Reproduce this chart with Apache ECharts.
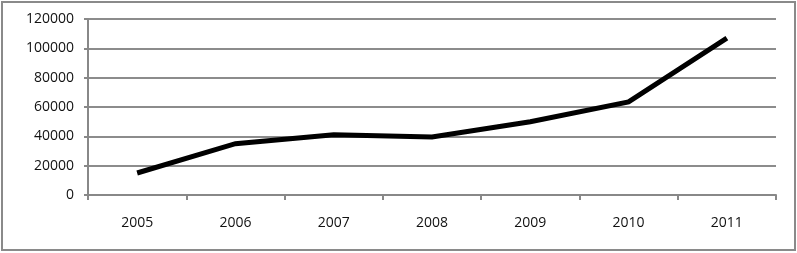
<!DOCTYPE html>
<html>
<head>
<meta charset="utf-8">
<script src="https://cdn.jsdelivr.net/npm/echarts@6/dist/echarts.min.js"></script>
<style>
html,body{margin:0;padding:0;background:#fff;}
#wrap{position:absolute;left:1px;top:1px;width:795px;height:250px;border:2px solid #8a8a8a;box-sizing:border-box;}
#chart{position:absolute;left:0;top:0;width:797px;height:253px;}
</style>
</head>
<body>
<div id="wrap"></div>
<div id="chart"></div>
<script>
const years = ['2005','2006','2007','2008','2009','2010','2011'];
const values = [15000, 35000, 41000, 39500, 50000, 63500, 107000];
const yTicks = {min: 0, max: 120000, interval: 20000};

const chart = echarts.init(document.getElementById('chart'), null, {renderer: 'canvas'});
chart.setOption({
  animation: false,
  grid: {left: 88, right: 21, top: 19, bottom: 58, containLabel: false},
  xAxis: {
    type: 'category',
    data: years,
    boundaryGap: true,
    axisLine: {show: true, lineStyle: {color: '#888', width: 2}},
    axisTick: {show: true, length: 5, lineStyle: {color: '#888', width: 2}},
    axisLabel: {color: '#111', fontFamily: 'Open Sans', fontSize: 14, margin: 21},
    splitLine: {show: false}
  },
  yAxis: {
    type: 'value',
    min: yTicks.min, max: yTicks.max, interval: yTicks.interval,
    axisLine: {show: true, lineStyle: {color: '#888', width: 2}},
    axisTick: {show: true, length: 4, lineStyle: {color: '#888', width: 2}},
    axisLabel: {color: '#111', fontFamily: 'Open Sans', fontSize: 14, margin: 14,
      formatter: function (v) { return String(v); }},
    splitLine: {show: true, lineStyle: {color: '#8c8c8c', width: 2}}
  },
  series: [{
    type: 'line',
    data: values,
    showSymbol: false,
    symbol: 'none',
    lineStyle: {color: '#000', width: 5, cap: 'butt', join: 'miter'}
  }]
});
</script>
</body>
</html>
